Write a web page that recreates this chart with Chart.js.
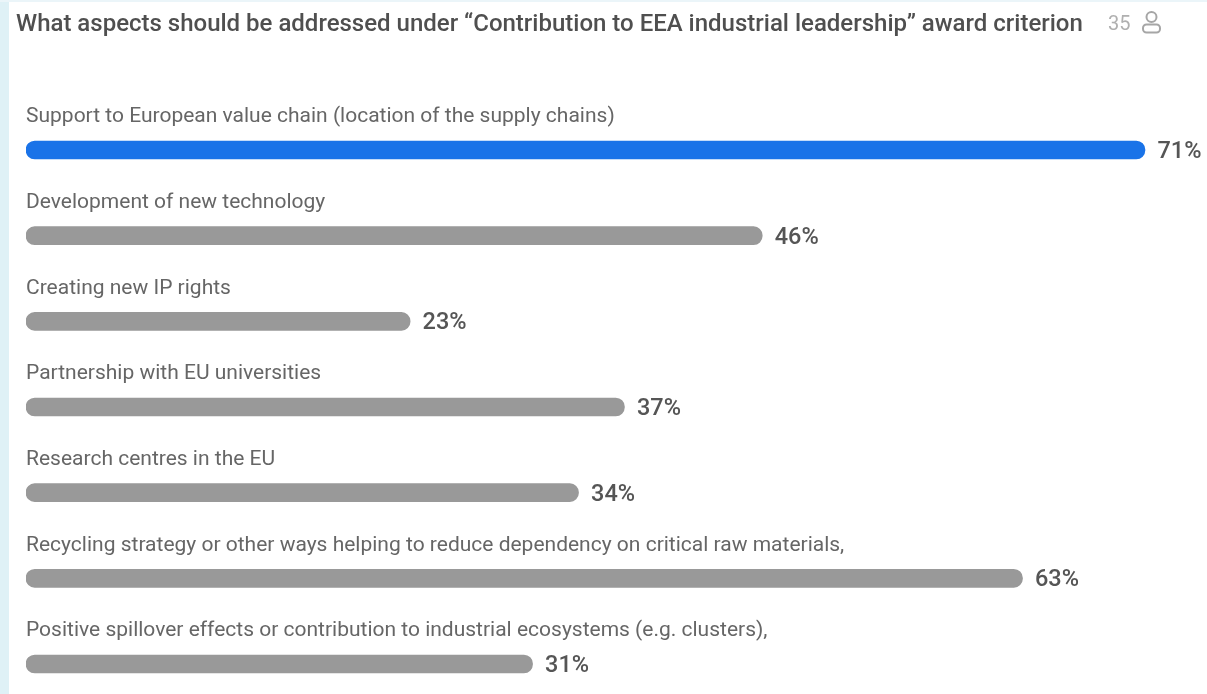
<!DOCTYPE html>
<html>
<head>
<meta charset="utf-8">
<script src="https://cdn.jsdelivr.net/npm/chart.js@4/dist/chart.umd.min.js"></script>
<style>
  html, body { margin: 0; padding: 0; background: #fff; overflow: hidden; }
  body { width: 1207px; height: 694px; position: relative; font-family: Roboto, sans-serif; }
  #sideStrip { position: absolute; left: 0; top: 0; width: 9px; height: 694px; background: #dff1f6; }
  #topStrip { position: absolute; left: 0; top: 0; width: 1207px; height: 2px; background: #ebf5f9; }
  #title { position: absolute; left: 16px; top: 9px; font-size: 24px; line-height: 28px; font-weight: 500; color: #4f4f4f; white-space: nowrap; filter: blur(0.35px); }
  #count { position: absolute; left: 1108px; top: 9px; font-size: 20px; line-height: 28px; color: #b0b0b0; filter: blur(0.35px); }
  #icon { position: absolute; left: 1141px; top: 10px; }
  #chartBox { position: absolute; left: 0; top: 0; width: 1207px; height: 694px; overflow: hidden; filter: blur(0.35px); }
</style>
</head>
<body>
<div id="sideStrip"></div>
<div id="topStrip"></div>
<div id="title">What aspects should be addressed under “Contribution to EEA industrial leadership” award criterion</div>
<div id="count">35</div>
<svg id="icon" width="22" height="24" viewBox="0 0 22 24" fill="none" stroke="#a6a6a6" stroke-width="2">
  <circle cx="10.5" cy="7" r="5"></circle>
  <rect x="2" y="14.5" width="17" height="8" rx="3.5"></rect>
</svg>
<div id="chartBox"><canvas id="pollChart" width="1207" height="720"></canvas></div>
<script>
const categories = [
  "Support to European value chain (location of the supply chains)",
  "Development of new technology",
  "Creating new IP rights",
  "Partnership with EU universities",
  "Research centres in the EU",
  "Recycling strategy or other ways helping to reduce dependency on critical raw materials,",
  "Positive spillover effects or contribution to industrial ecosystems (e.g. clusters),",
];
const percentages = [71, 46, 23, 37, 34, 63, 31];

// bars start a little left of zero, the poll widget gives every bar a minimum stub
const axisMin = -2.09;
const axisMax = 75.05;
const topPercent = Math.max(...percentages);

// category text above each bar, percent text after its end
const barText = {
  id: "barText",
  afterDatasetsDraw(chart) {
    const ctx = chart.ctx;
    const meta = chart.getDatasetMeta(0);
    ctx.save();
    ctx.textBaseline = "middle";
    meta.data.forEach((bar, i) => {
      ctx.textAlign = "left";
      ctx.fillStyle = "#666666";
      ctx.font = "400 21px Roboto";
      ctx.fillText(categories[i], chart.chartArea.left, bar.y - 33);
      ctx.fillStyle = "#555555";
      ctx.font = "500 23.5px Roboto";
      ctx.fillText(percentages[i] + "%", bar.x + 12.5, bar.y + 2);
    });
    ctx.restore();
  },
};

new Chart(document.getElementById("pollChart").getContext("2d"), {
  type: "bar",
  data: {
    labels: categories,
    datasets: [
      {
        data: percentages,
        base: axisMin,
        backgroundColor: percentages.map((v) => (v === topPercent ? "#1a73e8" : "#999999")),
        barThickness: 18,
        borderRadius: 9,
        borderSkipped: false,
      },
    ],
  },
  options: {
    indexAxis: "y",
    responsive: false,
    animation: false,
    layout: { padding: { left: 26, right: 0, top: 107.2, bottom: 13.2 } },
    plugins: { legend: { display: false }, tooltip: { enabled: false }, title: { display: false } },
    scales: {
      x: { display: false, min: axisMin, max: axisMax },
      y: { display: false },
    },
  },
  plugins: [barText],
});
</script>
</body>
</html>
